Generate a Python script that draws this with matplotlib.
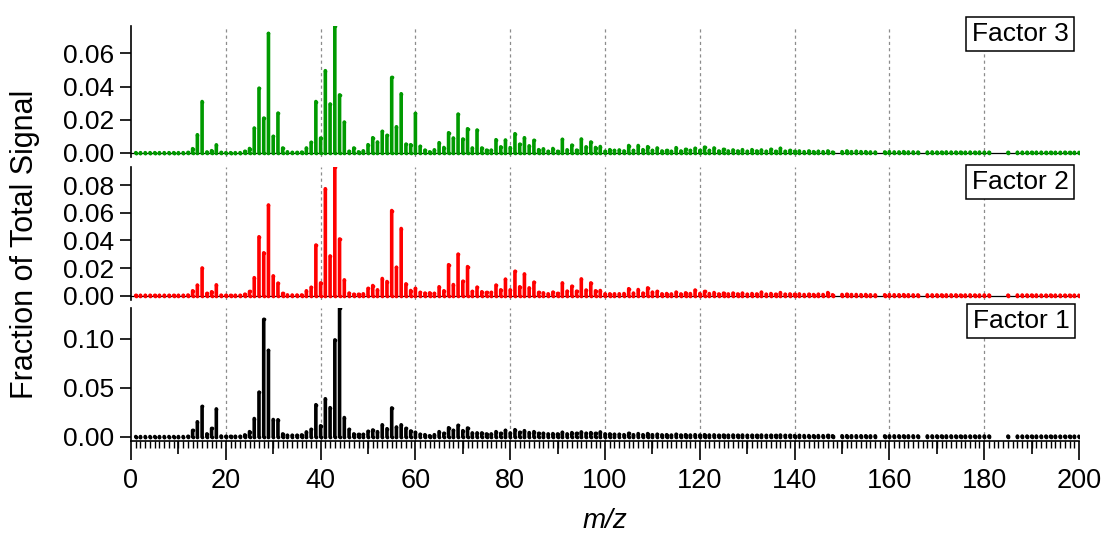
import matplotlib
matplotlib.use("Agg")
import matplotlib.pyplot as plt
import numpy as np

plt.rcParams['font.family'] = ['Liberation Sans', 'DejaVu Sans']

nan = np.nan
mz = np.arange(1, 201)

# Factor 3 (green), m/z 1..200, nan = not measured
factor3 = [
    0.0002, 0.0002, 0.0002, 0.0002, 0.0002, 0.0002, 0.0002, 0.0002, 0.0002, 0.0002,
    0.0002, 0.0003, 0.0026, 0.011, 0.031, 0.0006, 0.0014, 0.0049, 0.0003, 0.0002,
    0.0002, 0.0002, 0.0002, 0.001, 0.0027, 0.015, 0.039, 0.021, 0.072, 0.010,
    0.024, 0.003, 0.0007, 0.0003, 0.0003, 0.0005, 0.003, 0.0064, 0.031, 0.009,
    0.0496, 0.0295, 0.0767, 0.035, 0.0186, 0.001, 0.003, 0.0007, 0.0013, 0.005,
    0.0092, 0.0066, 0.013, 0.0106, 0.0455, 0.0158, 0.0357, 0.0053, 0.005, 0.0238,
    0.004, 0.0017, 0.0007, 0.0019, 0.0062, 0.0033, 0.0122, 0.009, 0.0234, 0.0084,
    0.0146, 0.003, 0.0138, 0.003, 0.0017, 0.0017, 0.008, 0.0037, 0.0078, 0.0033,
    0.0116, 0.0053, 0.0092, 0.0043, 0.0076, 0.002, 0.0025, 0.001, 0.0027, 0.001,
    0.0082, 0.0019, 0.0047, 0.0017, 0.0084, 0.0037, 0.0066, 0.0033, 0.0039, 0.001,
    0.002, 0.0015, 0.0018, 0.0012, 0.0045, 0.0015, 0.0045, 0.002, 0.0038, 0.0015,
    0.003, 0.0012, 0.0015, 0.001, 0.0032, 0.0012, 0.0022, 0.0015, 0.0028, 0.0015,
    0.0035, 0.0015, 0.003, 0.0012, 0.0022, 0.0012, 0.0018, 0.0012, 0.002, 0.001,
    0.002, 0.0012, 0.0018, 0.001, 0.0022, 0.001, 0.0028, 0.001, 0.0015, 0.001,
    0.0012, 0.0008, 0.0012, 0.0008, 0.001, 0.0008, 0.0012, 0.0005, nan, 0.0008,
    0.0012, 0.0008, 0.001, 0.0008, 0.0008, 0.0006, 0.0005, nan, 0.0006, 0.0008,
    0.0006, 0.0006, 0.0008, 0.0006, 0.0006, 0.0005, nan, 0.0005, 0.0006, 0.0005,
    0.0005, 0.0006, 0.0005, 0.0005, 0.0005, 0.0004, 0.0005, 0.0004, 0.0005, 0.0004,
    0.0004, nan, nan, nan, 0.0003, nan, 0.0004, 0.0004, 0.0004, 0.0004,
    0.0004, 0.0004, 0.0003, 0.0004, 0.0003, 0.0003, 0.0004, 0.0003, 0.0003, 0.0003,
]

# Factor 2 (red)
factor2 = [
    0.0002, 0.0002, 0.0002, 0.0002, 0.0002, 0.0002, 0.0002, 0.0002, 0.0002, 0.0002,
    0.0002, 0.0004, 0.0035, 0.0076, 0.020, 0.0016, 0.0028, 0.0078, 0.0003, 0.0002,
    0.0002, 0.0002, 0.0002, 0.001, 0.003, 0.013, 0.0426, 0.031, 0.0656, 0.0143,
    0.009, 0.0016, 0.0005, 0.0004, 0.0004, 0.0005, 0.0035, 0.006, 0.0366, 0.0092,
    0.0774, 0.0287, 0.0935, 0.041, 0.0114, 0.0018, 0.001, 0.001, 0.0013, 0.0052,
    0.0073, 0.0042, 0.0124, 0.0102, 0.0616, 0.0205, 0.0486, 0.0085, 0.0037, 0.0052,
    0.0023, 0.0018, 0.002, 0.0016, 0.0064, 0.0035, 0.0224, 0.008, 0.030, 0.0104,
    0.021, 0.003, 0.0061, 0.0028, 0.0023, 0.0023, 0.0076, 0.0042, 0.0119, 0.0042,
    0.0176, 0.0064, 0.0157, 0.0056, 0.0097, 0.0023, 0.002, 0.0013, 0.0025, 0.0016,
    0.0092, 0.0032, 0.0068, 0.0032, 0.0121, 0.004, 0.0092, 0.0035, 0.0037, 0.0013,
    0.0013, 0.0013, 0.0013, 0.0015, 0.005, 0.0018, 0.0044, 0.0018, 0.0056, 0.0025,
    0.003, 0.0013, 0.0015, 0.0012, 0.0025, 0.0012, 0.002, 0.0015, 0.004, 0.0015,
    0.003, 0.0015, 0.0022, 0.0012, 0.0018, 0.0012, 0.0018, 0.0012, 0.0018, 0.001,
    0.0015, 0.0012, 0.0025, 0.001, 0.0015, 0.001, 0.0022, 0.001, 0.0012, 0.001,
    0.0012, 0.0008, 0.001, 0.0008, 0.001, 0.0008, 0.0022, 0.0006, nan, 0.0008,
    0.001, 0.0008, 0.0008, 0.0007, 0.0008, 0.0006, 0.0005, nan, 0.0006, 0.0007,
    0.0006, 0.0006, 0.0007, 0.0006, 0.0005, 0.0005, nan, 0.0005, 0.0005, 0.0005,
    0.0005, 0.0005, 0.0005, 0.0005, 0.0004, 0.0004, 0.0005, 0.0004, 0.0004, 0.0004,
    0.0004, nan, nan, nan, 0.0003, nan, 0.0004, 0.0004, 0.0004, 0.0004,
    0.0004, 0.0003, 0.0003, 0.0004, 0.0003, 0.0003, 0.0003, 0.0003, 0.0003, 0.0003,
]

# Factor 1 (black)
factor1 = [
    0.0003, 0.0003, 0.0003, 0.0003, 0.0003, 0.0003, 0.0003, 0.0003, 0.0003, 0.0003,
    0.0003, 0.0005, 0.0066, 0.0154, 0.031, 0.003, 0.0086, 0.0285, 0.0008, 0.0005,
    0.0005, 0.0005, 0.0005, 0.002, 0.0053, 0.0187, 0.0456, 0.120, 0.0883, 0.0177,
    0.0174, 0.003, 0.0016, 0.0016, 0.0016, 0.002, 0.005, 0.0076, 0.0328, 0.0113,
    0.0389, 0.0298, 0.099, 0.1313, 0.0197, 0.0076, 0.003, 0.0025, 0.0025, 0.0056,
    0.007, 0.0053, 0.0123, 0.0083, 0.0295, 0.01, 0.0123, 0.0086, 0.006, 0.0046,
    0.0026, 0.0022, 0.0012, 0.0022, 0.0053, 0.0036, 0.0093, 0.0066, 0.0117, 0.0063,
    0.009, 0.004, 0.004, 0.004, 0.003, 0.003, 0.0053, 0.0036, 0.0066, 0.004,
    0.0073, 0.0046, 0.0063, 0.0043, 0.0053, 0.0036, 0.0036, 0.003, 0.0033, 0.003,
    0.0046, 0.003, 0.0043, 0.0036, 0.005, 0.0036, 0.0043, 0.0036, 0.005, 0.003,
    0.003, 0.0026, 0.0026, 0.0022, 0.0036, 0.0022, 0.0033, 0.0022, 0.0033, 0.0022,
    0.0026, 0.002, 0.0022, 0.0018, 0.0026, 0.0018, 0.0022, 0.0018, 0.0022, 0.0018,
    0.0022, 0.0018, 0.002, 0.0016, 0.0018, 0.0016, 0.0018, 0.0016, 0.0018, 0.0015,
    0.0016, 0.0015, 0.0018, 0.0014, 0.0016, 0.0014, 0.0018, 0.0014, 0.0015, 0.0013,
    0.0014, 0.0013, 0.0013, 0.0012, 0.0013, 0.0012, 0.0014, 0.0011, nan, 0.0011,
    0.0012, 0.0011, 0.0011, 0.0011, 0.0011, 0.001, 0.001, nan, 0.001, 0.001,
    0.001, 0.001, 0.001, 0.001, 0.001, 0.0009, nan, 0.0009, 0.0009, 0.0009,
    0.0009, 0.0009, 0.0009, 0.0008, 0.0008, 0.0008, 0.0008, 0.0008, 0.0008, 0.0008,
    0.0008, nan, nan, nan, 0.0007, nan, 0.0007, 0.0007, 0.0007, 0.0007,
    0.0007, 0.0007, 0.0007, 0.0007, 0.0007, 0.0006, 0.0006, 0.0006, 0.0006, 0.0006,
]

labels = ["Factor 3", "Factor 2", "Factor 1"]
colors = ["#009a00", "#ff0000", "#000000"]
yticks = [[0, 0.02, 0.04, 0.06], [0, 0.02, 0.04, 0.06, 0.08], [0, 0.05, 0.10]]

W, H = 1110, 535
fig = plt.figure(figsize=(W / 100, H / 100), dpi=100)

# pixel boxes of the three panels (top, bottom)
boxes = [(25.7, 156.8), (166.5, 299.5), (308.3, 440.7)]
label_pos = [(1020, 34), (1020, 182), (1021, 321)]
x0, x1 = 131, 1079

for i, (vals, lab, col) in enumerate(zip([factor3, factor2, factor1], labels, colors)):
    top, bot = boxes[i]
    ax = fig.add_axes([x0 / W, 1 - bot / H, (x1 - x0) / W, (bot - top) / H])
    v = np.array(vals, dtype=float)
    ok = ~np.isnan(v)
    vmax = np.nanmax(v)
    bottom_lim = -0.03 * vmax
    for g in range(20, 200, 20):
        ax.axvline(g, color="#8c8c8c", lw=0.9, ls=(0, (2.5, 2.5)), zorder=0)
    if i < 2:
        ax.axhline(0, color="black", lw=0.9, zorder=1)
    ax.vlines(mz[ok], 0, v[ok], colors=col, lw=2.6, capstyle="round", zorder=2,
              snap=False)
    # round dots at each stick end so near-zero values still show
    ax.plot(mz[ok], v[ok], "o", ms=2.6, color=col, mew=0, zorder=3)
    ax.plot(mz[ok], np.zeros(ok.sum()), "o", ms=2.6, color=col, mew=0, zorder=3)
    ax.set_xlim(0, 200)
    ax.set_ylim(bottom_lim, vmax)
    for s in ["top", "right"]:
        ax.spines[s].set_visible(False)
    ax.spines["left"].set_linewidth(1.2)
    ax.set_yticks(yticks[i])
    ax.set_yticklabels(["%.2f" % t for t in yticks[i]])
    ax.tick_params(axis="y", direction="out", length=8, width=1.2, labelsize=19, pad=4)
    if i < 2:
        ax.spines["bottom"].set_visible(False)
        ax.set_xticks([])
    else:
        ax.spines["bottom"].set_linewidth(1.2)
        ax.set_xticks(np.arange(0, 201, 20))
        ax.set_xticks(np.arange(0, 201, 1), minor=True)
        ax.tick_params(axis="x", which="major", direction="out", length=14, width=1.2,
                       labelsize=19.5, pad=6)
        ax.tick_params(axis="x", which="minor", direction="out", length=5, width=1.0)
        sec = ax.secondary_xaxis("bottom")
        sec.set_xticks(np.arange(10, 200, 20))
        sec.set_xticklabels([])
        sec.tick_params(direction="out", length=9, width=1.2)
        sec.spines["bottom"].set_visible(False)
        ax.set_xlabel("m/z", fontsize=20, style="italic", labelpad=10)
    lx, ly = label_pos[i]
    fig.text(lx / W, 1 - ly / H, lab, fontsize=19, ha="center", va="center",
             bbox=dict(boxstyle="square,pad=0.2", fc="white", ec="black", lw=1.1),
             zorder=5)

fig.text(25 / W, 1 - 244 / H, "Fraction of Total Signal", rotation=90,
         fontsize=22, ha="center", va="center")

fig.savefig("out.png", dpi=100)
